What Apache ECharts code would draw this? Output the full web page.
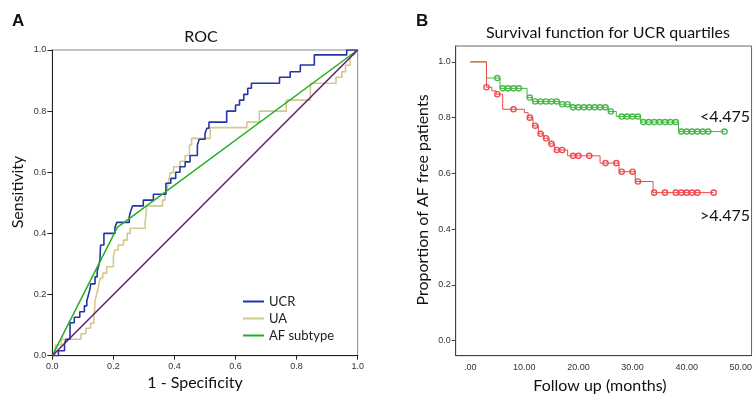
<!DOCTYPE html>
<html>
<head>
<meta charset="utf-8">
<script src="https://cdn.jsdelivr.net/npm/echarts@6/dist/echarts.min.js"></script>
<style>
html,body{margin:0;padding:0;background:#fff;}
#chart{width:755px;height:394px;}
</style>
</head>
<body>
<div id="chart"></div>
<script>
// ---- Panel A: ROC data (x = 1 - specificity where level starts, y = sensitivity) ----
const ucrRoc = [[0,0],[0.02,0.016],[0.04,0.04],[0.045,0.054],[0.058,0.108],[0.072,0.126],[0.09,0.144],[0.105,0.163],[0.113,0.18],[0.118,0.198],[0.123,0.217],[0.126,0.235],[0.14,0.258],[0.147,0.277],[0.152,0.295],[0.156,0.313],[0.158,0.362],[0.169,0.40],[0.205,0.419],[0.211,0.436],[0.252,0.455],[0.257,0.474],[0.263,0.49],[0.298,0.509],[0.331,0.528],[0.372,0.564],[0.388,0.58],[0.404,0.60],[0.418,0.618],[0.435,0.634],[0.451,0.655],[0.475,0.688],[0.481,0.708],[0.5,0.727],[0.506,0.744],[0.513,0.764],[0.571,0.80],[0.60,0.82],[0.613,0.836],[0.627,0.855],[0.64,0.875],[0.652,0.891],[0.744,0.911],[0.779,0.929],[0.812,0.951],[0.858,0.984],[0.964,1.0],[1,1]];
const uaRoc = [[0,0],[0.01,0.035],[0.03,0.054],[0.094,0.072],[0.11,0.09],[0.125,0.106],[0.136,0.125],[0.138,0.145],[0.14,0.18],[0.145,0.2],[0.15,0.22],[0.156,0.253],[0.165,0.27],[0.178,0.291],[0.2,0.324],[0.205,0.346],[0.216,0.362],[0.233,0.378],[0.245,0.40],[0.255,0.417],[0.304,0.436],[0.306,0.455],[0.309,0.49],[0.361,0.509],[0.369,0.527],[0.375,0.545],[0.38,0.565],[0.386,0.599],[0.397,0.618],[0.418,0.636],[0.435,0.655],[0.449,0.689],[0.456,0.711],[0.517,0.746],[0.637,0.764],[0.678,0.80],[0.766,0.836],[0.845,0.891],[0.929,0.911],[0.948,0.929],[0.96,0.95],[0.975,0.985],[0.99,1.0],[1,1]];
const afRoc = [[0,0],[0.213,0.42],[1,1]];
const refRoc = [[0,0],[1,1]];
const rocTicks = [0,0.2,0.4,0.6,0.8,1.0];
const rocNames = ['UCR','UA','AF subtype'];

// ---- Panel B: Kaplan-Meier data ----
const lowSteps = [[0,1],[3,0.942],[5.5,0.905],[10.5,0.872],[11.5,0.858],[16.5,0.848],[18.5,0.837],[25.5,0.822],[27,0.804],[31.5,0.784],[38.5,0.75],[47,0.75]];
const lowCensorT = [5,6,7,8,9,11,12,13,14,15,16,17,18,19,20,21,22,23,24,25,26,28,29,30,31,32,33,34,35,36,37,38,39,40,41,42,43,44,47];
const lowCensorY = [0.942,0.905,0.905,0.905,0.905,0.872,0.858,0.858,0.858,0.858,0.858,0.848,0.848,0.837,0.837,0.837,0.837,0.837,0.837,0.837,0.822,0.804,0.804,0.804,0.804,0.784,0.784,0.784,0.784,0.784,0.784,0.784,0.75,0.75,0.75,0.75,0.75,0.75,0.75];
const highSteps = [[0,1],[3,0.909],[4,0.896],[4.8,0.884],[6,0.83],[10,0.818],[10.7,0.80],[11.6,0.771],[12.6,0.742],[13.6,0.726],[14.6,0.706],[15.6,0.684],[18,0.663],[24,0.637],[27.5,0.606],[30.5,0.571],[33.8,0.531],[45,0.531]];
const highCensorT = [3,5,8,11,12,13,14,15,16,17,19,20,22,25,27,28,30,31,34,36,38,39,40,41,42,45];
const highCensorY = [0.909,0.884,0.83,0.80,0.771,0.742,0.726,0.706,0.684,0.684,0.663,0.663,0.663,0.637,0.637,0.606,0.606,0.571,0.531,0.531,0.531,0.531,0.531,0.531,0.531,0.531];
const kmTicksX = [0,10,20,30,40,50];
const kmTicksY = [0,0.2,0.4,0.6,0.8,1.0];
const groupLabels = ['<4.475','>4.475'];

const zip = (a,b) => a.map((v,i)=>[v,b[i]]);

const tickFont = {fontFamily:'Liberation Sans', fontSize:9, color:'#333'};
const titleFont = 'Lato';

const chart = echarts.init(document.getElementById('chart'));
chart.setOption({
  animation:false,
  backgroundColor:'#fff',
  grid:[
    {left:52.3, top:50, width:305.4, height:305.7, show:true, borderColor:'#8a8a8a', borderWidth:1, backgroundColor:'transparent'},
    {left:455.7, top:46, width:304.6, height:309.7, show:true, borderColor:'#666', borderWidth:1, backgroundColor:'transparent'}
  ],
  xAxis:[
    {gridIndex:0, type:'value', min:0, max:1, interval:0.2,
     axisLine:{lineStyle:{color:'#222', width:1}},
     axisTick:{show:true, length:4, lineStyle:{color:'#222'}},
     axisLabel:Object.assign({margin:6, formatter:v=>v.toFixed(1)}, tickFont),
     splitLine:{show:false}},
    {gridIndex:1, type:'value', min:-2.69, max:52,
     axisLine:{onZero:false, lineStyle:{color:'#444', width:1}},
     axisTick:{show:false, customValues:kmTicksX},
     axisLabel:Object.assign({margin:7, customValues:kmTicksX, formatter:v=> v===0 ? '.00' : v.toFixed(2)}, tickFont),
     splitLine:{show:false}}
  ],
  yAxis:[
    {gridIndex:0, type:'value', min:0, max:1, interval:0.2,
     axisLine:{lineStyle:{color:'#222', width:1}},
     axisTick:{show:true, length:5, lineStyle:{color:'#222'}},
     axisLabel:Object.assign({margin:6, formatter:v=>v.toFixed(1)}, tickFont),
     splitLine:{show:false}},
    {gridIndex:1, type:'value', min:-0.054, max:1.057,
     axisLine:{onZero:false, lineStyle:{color:'#444', width:1}},
     axisTick:{show:true, length:4, customValues:kmTicksY, lineStyle:{color:'#444'}},
     axisLabel:Object.assign({margin:5, customValues:kmTicksY, formatter:v=>v.toFixed(1)}, tickFont),
     splitLine:{show:false}}
  ],
  legend:{
    data:rocNames, orient:'vertical', left:238, top:289, icon:'rect',
    itemWidth:21, itemHeight:2, itemGap:2,
    textStyle:{fontFamily:titleFont, fontSize:13, color:'#222', lineHeight:15}
  },
  series:[
    {name:'UA', type:'line', xAxisIndex:0, yAxisIndex:0, step:'end', data:uaRoc, symbol:'none',
     lineStyle:{color:'#d4c88f', width:1.6}, itemStyle:{color:'#d4c88f'}},
    {name:'UCR', type:'line', xAxisIndex:0, yAxisIndex:0, step:'end', data:ucrRoc, symbol:'none',
     lineStyle:{color:'#2535a8', width:1.6}, itemStyle:{color:'#2535a8'}},
    {name:'AF subtype', type:'line', xAxisIndex:0, yAxisIndex:0, data:afRoc, symbol:'none',
     lineStyle:{color:'#22b022', width:1.5}, itemStyle:{color:'#22b022'}},
    {name:'Reference', type:'line', xAxisIndex:0, yAxisIndex:0, data:refRoc, symbol:'none',
     lineStyle:{color:'#5e1f6e', width:1.5}, itemStyle:{color:'#5e1f6e'}},

    {name:groupLabels[0], type:'line', xAxisIndex:1, yAxisIndex:1, step:'end', data:lowSteps, symbol:'none',
     lineStyle:{color:'#3dba3d', width:1}},
    {name:groupLabels[1], type:'line', xAxisIndex:1, yAxisIndex:1, step:'end', data:highSteps, symbol:'none',
     lineStyle:{color:'#ee4a4a', width:1}},
    {name:groupLabels[0]+' censored', type:'scatter', xAxisIndex:1, yAxisIndex:1, data:zip(lowCensorT, lowCensorY),
     symbol:'circle', symbolSize:5.2, itemStyle:{color:'#fff', borderColor:'#1fa81f', borderWidth:1.4}},
    {name:groupLabels[1]+' censored', type:'scatter', xAxisIndex:1, yAxisIndex:1, data:zip(highCensorT, highCensorY),
     symbol:'circle', symbolSize:5.2, itemStyle:{color:'#fff', borderColor:'#e8202a', borderWidth:1.4}}
  ],
  graphic:[
    {type:'text', x:12, y:21, style:{text:'A', font:'bold 17px "Liberation Sans"', fill:'#111', textVerticalAlign:'middle'}},
    {type:'text', x:416, y:21, style:{text:'B', font:'bold 17px "Liberation Sans"', fill:'#111', textVerticalAlign:'middle'}},
    {type:'text', x:201, y:37, style:{text:'ROC', font:'16px '+titleFont, fill:'#111', textAlign:'center', textVerticalAlign:'middle'}},
    {type:'text', x:608, y:33, style:{text:'Survival function for UCR quartiles', font:'16px '+titleFont, fill:'#111', textAlign:'center', textVerticalAlign:'middle'}},
    {type:'text', x:195, y:383, style:{text:'1 - Specificity', font:'16px '+titleFont, fill:'#111', textAlign:'center', textVerticalAlign:'middle'}},
    {type:'text', x:600, y:386, style:{text:'Follow up (months)', font:'16px '+titleFont, fill:'#111', textAlign:'center', textVerticalAlign:'middle'}},
    {type:'text', x:18, y:192, rotation:Math.PI/2, style:{text:'Sensitivity', font:'16px '+titleFont, fill:'#111', textAlign:'center', textVerticalAlign:'middle'}},
    {type:'text', x:423, y:200, rotation:Math.PI/2, style:{text:'Proportion of AF free patients', font:'16px '+titleFont, fill:'#111', textAlign:'center', textVerticalAlign:'middle'}},
    {type:'text', x:725, y:117, style:{text:groupLabels[0], font:'16px '+titleFont, fill:'#111', textAlign:'center', textVerticalAlign:'middle'}},
    {type:'text', x:725, y:216, style:{text:groupLabels[1], font:'16px '+titleFont, fill:'#111', textAlign:'center', textVerticalAlign:'middle'}}
  ]
});
</script>
</body>
</html>
